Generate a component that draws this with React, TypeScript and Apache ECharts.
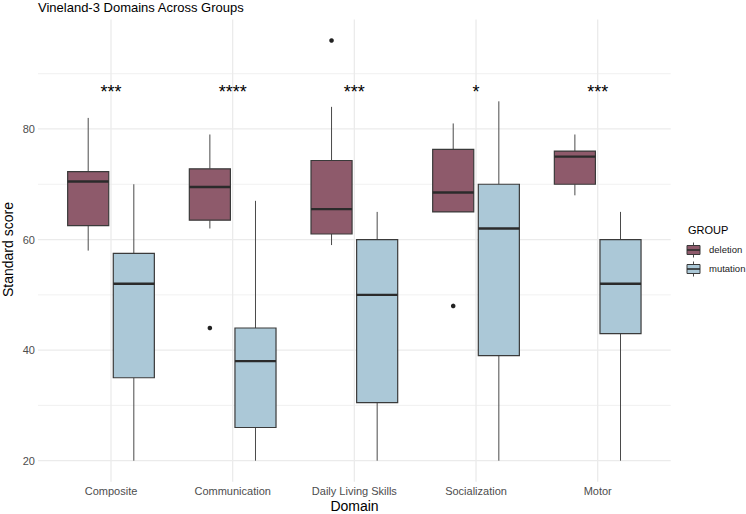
import React, { useEffect, useRef } from 'react';
import * as echarts from 'echarts';

const CATEGORIES = ['Composite', 'Communication', 'Daily Living Skills', 'Socialization', 'Motor'];
const GROUPS = ['deletion', 'mutation'];
// [min, q1, median, q3, max]
const DELETION = [
  [58, 62.5, 70.5, 72.3, 82],
  [62, 63.5, 69.5, 72.8, 79],
  [59, 61, 65.5, 74.3, 84],
  [65, 65, 68.5, 76.3, 81],
  [68, 70, 75, 76, 79],
];
const MUTATION = [
  [20, 35, 52, 57.5, 70],
  [20, 26, 38, 44, 67],
  [20, 30.5, 50, 60, 65],
  [20, 39, 62, 70, 85],
  [20, 43, 52, 60, 65],
];
// [category index, value]
const DELETION_OUTLIERS = [
  [1, 44],
  [2, 96],
  [3, 48],
];
const SIGNIFICANCE = ['***', '****', '***', '*', '***'];
const STAR_Y = 86.7;
const Y_TICKS = [20, 40, 60, 80];
const Y_MINOR = [30, 50, 70, 90];

const FONT = '"Liberation Sans", Arial, Helvetica, sans-serif';
const COLORS = ['#8e5a6b', '#abc8d7'];
const DODGE = 0.1875;
const HALF = 0.16875;

function boxRender(offset: number, fill: string) {
  return (params: any, api: any) => {
    const cx = api.value(0) + offset;
    const pMin = api.coord([cx, api.value(1)]);
    const pQ1 = api.coord([cx, api.value(2)]);
    const pMed = api.coord([cx, api.value(3)]);
    const pQ3 = api.coord([cx, api.value(4)]);
    const pMax = api.coord([cx, api.value(5)]);
    const xl = api.coord([cx - HALF, api.value(3)])[0];
    const xr = api.coord([cx + HALF, api.value(3)])[0];
    const wStyle = { stroke: '#4a4a4a', lineWidth: 1 };
    return {
      type: 'group',
      children: [
        { type: 'line', shape: { x1: pMax[0], y1: pMax[1], x2: pQ3[0], y2: pQ3[1] }, style: wStyle },
        { type: 'line', shape: { x1: pQ1[0], y1: pQ1[1], x2: pMin[0], y2: pMin[1] }, style: wStyle },
        {
          type: 'rect',
          shape: { x: xl, y: pQ3[1], width: xr - xl, height: pQ1[1] - pQ3[1] },
          style: { fill, stroke: '#3a3a3a', lineWidth: 1.2 },
        },
        { type: 'line', shape: { x1: xl, y1: pMed[1], x2: xr, y2: pMed[1] }, style: { stroke: '#2b2b2b', lineWidth: 2.4 } },
      ],
    };
  };
}

export default function App() {
  const ref = useRef<HTMLDivElement>(null);
  useEffect(() => {
    if (!ref.current) return;
    const chart = echarts.init(ref.current, undefined, { renderer: 'svg' });

    const hLines = [...Y_TICKS.map((v) => [0, v, 1]), ...Y_MINOR.map((v) => [0, v, 0])];
    const vLines = CATEGORIES.map((_, i) => [i, 50]);

    const legendGraphics: any[] = [
      {
        type: 'text',
        left: 688,
        top: 224,
        style: { text: 'GROUP', fontSize: 11, fontFamily: FONT, fill: '#000' },
      },
    ];
    GROUPS.forEach((g, k) => {
      const cy = 250 + k * 19;
      legendGraphics.push(
        { type: 'line', shape: { x1: 693.5, y1: cy - 7.5, x2: 693.5, y2: cy + 7.5 }, style: { stroke: '#4a4a4a', lineWidth: 1 } },
        { type: 'rect', shape: { x: 687, y: cy - 4.5, width: 13, height: 9 }, style: { fill: COLORS[k], stroke: '#3a3a3a', lineWidth: 1 } },
        { type: 'line', shape: { x1: 687, y1: cy, x2: 700, y2: cy }, style: { stroke: '#2b2b2b', lineWidth: 1.6 } },
        {
          type: 'text',
          left: 709,
          top: cy - 6,
          style: { text: g, fontSize: 9.5, fontFamily: FONT, fill: '#1a1a1a' },
        }
      );
    });

    chart.setOption({
      animation: false,
      grid: { left: 38, right: 75.3, top: 19.5, bottom: 32.3, containLabel: false },
      xAxis: {
        type: 'value',
        min: -0.6,
        max: 4.6,
        axisLine: { show: false },
        axisTick: { show: false },
        splitLine: { show: false },
        axisLabel: {
          customValues: [0, 1, 2, 3, 4],
          formatter: (v: number) => CATEGORIES[Math.round(v)] ?? '',
          color: '#4d4d4d',
          fontSize: 11,
          fontFamily: FONT,
          margin: 4,
        },
      },
      yAxis: {
        type: 'value',
        min: 16.2,
        max: 99.8,
        axisLine: { show: false },
        axisTick: { show: false },
        splitLine: { show: false },
        axisLabel: {
          customValues: Y_TICKS,
          color: '#4d4d4d',
          fontSize: 11,
          fontFamily: FONT,
          margin: 3,
        },
      },
      graphic: [
        {
          type: 'text',
          left: 38,
          top: 1,
          style: { text: 'Vineland-3 Domains Across Groups', fontSize: 13, fontFamily: FONT, fill: '#000' },
        },
        {
          type: 'text',
          x: 354.5,
          y: 506,
          style: {
            text: 'Domain',
            fontSize: 14,
            fontFamily: FONT,
            fill: '#000',
            align: 'center',
            verticalAlign: 'middle',
            textAlign: 'center',
            textVerticalAlign: 'middle',
          },
        },
        {
          type: 'text',
          x: 1,
          y: 297,
          rotation: Math.PI / 2,
          style: { text: 'Standard score', fontSize: 14, fontFamily: FONT, fill: '#000' },
        },
        ...legendGraphics,
      ],
      series: [
        {
          type: 'custom',
          name: 'hgrid',
          silent: true,
          z: 0,
          data: hLines,
          encode: { x: 0, y: 1 },
          renderItem: (params: any, api: any) => {
            const cs = params.coordSys;
            const y = api.coord([0, api.value(1)])[1];
            const major = api.value(2) === 1;
            return {
              type: 'line',
              shape: { x1: cs.x, y1: y, x2: cs.x + cs.width, y2: y },
              style: { stroke: '#ebebeb', lineWidth: major ? 1.3 : 0.7 },
            };
          },
        },
        {
          type: 'custom',
          name: 'vgrid',
          silent: true,
          z: 0,
          data: vLines,
          encode: { x: 0, y: 1 },
          renderItem: (params: any, api: any) => {
            const cs = params.coordSys;
            const x = api.coord([api.value(0), 50])[0];
            return {
              type: 'line',
              shape: { x1: x, y1: cs.y, x2: x, y2: cs.y + cs.height },
              style: { stroke: '#ebebeb', lineWidth: 1.3 },
            };
          },
        },
        {
          type: 'custom',
          name: GROUPS[0],
          z: 2,
          data: DELETION.map((d, i) => [i, ...d]),
          encode: { x: 0, y: [1, 2, 3, 4, 5] },
          renderItem: boxRender(-DODGE, COLORS[0]),
        },
        {
          type: 'custom',
          name: GROUPS[1],
          z: 2,
          data: MUTATION.map((d, i) => [i, ...d]),
          encode: { x: 0, y: [1, 2, 3, 4, 5] },
          renderItem: boxRender(DODGE, COLORS[1]),
        },
        {
          type: 'custom',
          name: 'outliers',
          z: 3,
          data: DELETION_OUTLIERS,
          encode: { x: 0, y: 1 },
          renderItem: (params: any, api: any) => {
            const p = api.coord([api.value(0) - DODGE, api.value(1)]);
            return { type: 'circle', shape: { cx: p[0], cy: p[1], r: 2.3 }, style: { fill: '#222' } };
          },
        },
        {
          type: 'custom',
          name: 'significance',
          z: 3,
          data: SIGNIFICANCE.map((_, i) => [i, STAR_Y]),
          encode: { x: 0, y: 1 },
          renderItem: (params: any, api: any) => {
            const i = api.value(0);
            const p = api.coord([i, api.value(1)]);
            return {
              type: 'text',
              x: p[0],
              y: p[1],
              style: {
                text: SIGNIFICANCE[params.dataIndex],
                fontSize: 18,
                fontFamily: FONT,
                fill: '#000',
                align: 'center',
                verticalAlign: 'middle',
                textAlign: 'center',
                textVerticalAlign: 'middle',
              },
            };
          },
        },
      ],
    });
    return () => chart.dispose();
  }, []);
  return <div ref={ref} style={{ width: 746, height: 514, position: 'fixed', left: 0, top: 0, background: '#fff' }} />;
}
